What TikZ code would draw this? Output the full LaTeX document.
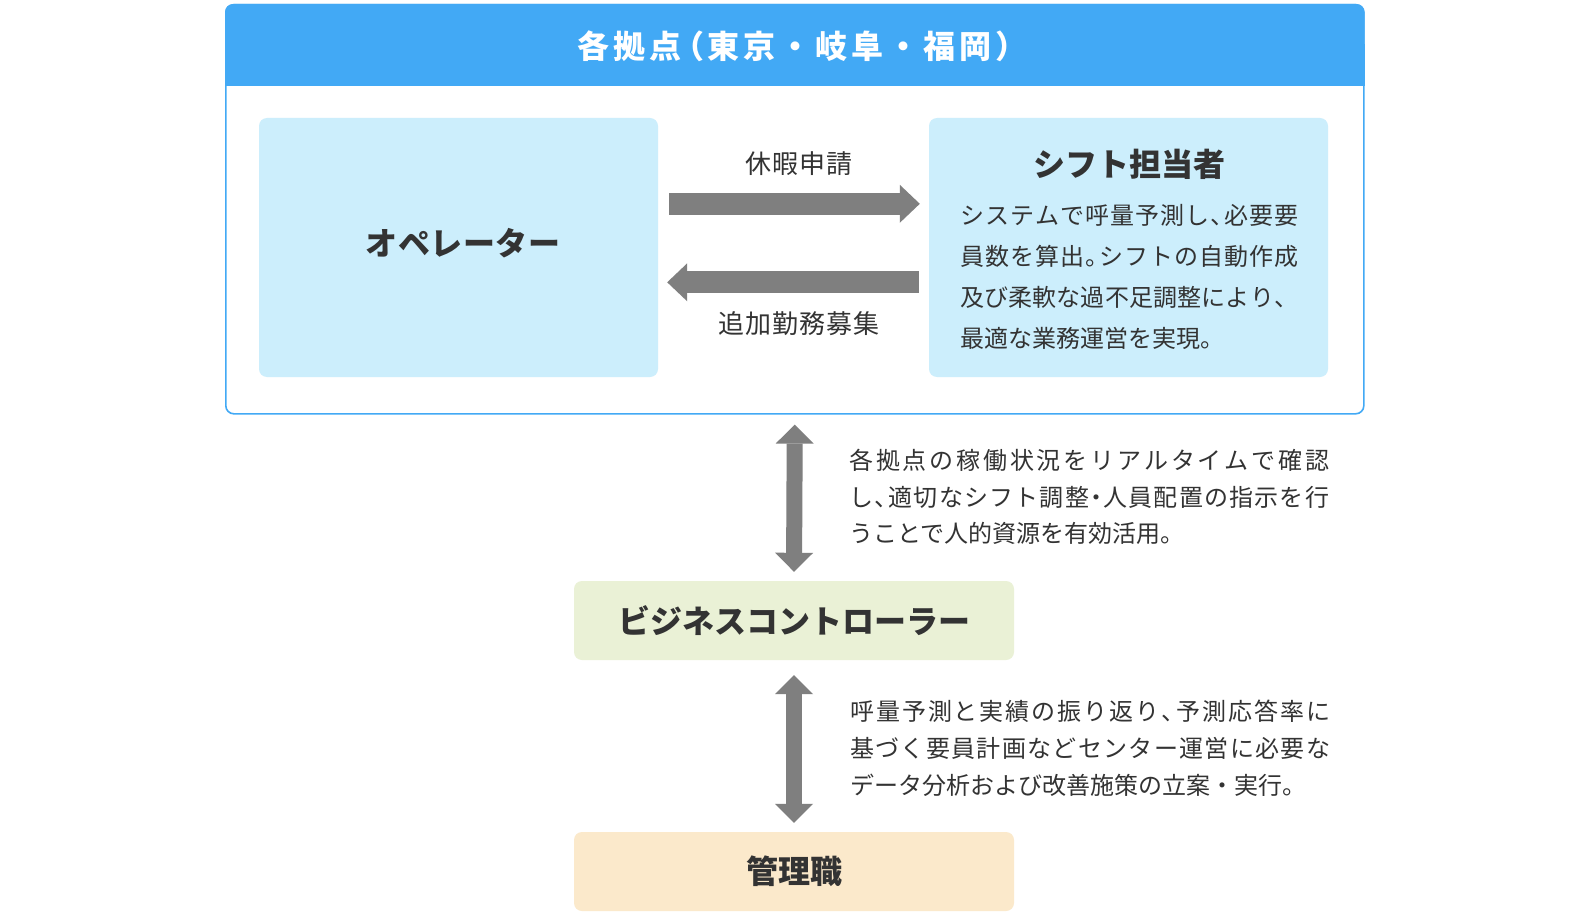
\documentclass[tikz,border=0pt]{standalone}
\usepackage{fontspec}
\setmainfont{Noto Sans CJK JP}
\usetikzlibrary{arrows.meta,calc}
\definecolor{hdrblue}{HTML}{42A9F5}
\definecolor{lblue}{HTML}{CCEEFC}
\definecolor{lgreen}{HTML}{EAF1D6}
\definecolor{peach}{HTML}{FBE9CB}
\definecolor{arrowgray}{HTML}{7F7F7F}
\definecolor{txt}{HTML}{333333}
\ExplSyntaxOn
\cs_new_protected:Npn \my_spaced:nn #1#2
  {
    \bool_set_true:N \l_tmpa_bool
    \tl_map_inline:nn {#2}
      {
        \bool_if:NTF \l_tmpa_bool { \bool_set_false:N \l_tmpa_bool } { #1 }
        ##1
      }
  }
\NewDocumentCommand \spaced { m m } { \my_spaced:nn { \hskip #1 \relax } {#2} }
\NewDocumentCommand \jl { m m }
  { \mode_leave_vertical: \hbox_to_wd:nn {#1} { \my_spaced:nn { \hfil } {#2} } }
\ExplSyntaxOff
\newcommand\hc{、\kern-11pt}
\newcommand\hp{。\kern-11pt}
\newcommand\hd{\kern-6pt・\kern-6pt}
\begin{document}
\begin{tikzpicture}[x=1pt,y=-1pt,
  every node/.style={text=txt},
  box/.style={rectangle, rounded corners=8pt, inner sep=0pt},
  bigbox/.style={box, minimum width=399pt, minimum height=259pt},
  rolebox/.style={box, minimum width=440pt, minimum height=79pt},
  boldtxt/.style={font=\bfseries\fontsize{32}{32}\selectfont},
  lbltxt/.style={font=\fontsize{26}{26}\selectfont},
  fatH/.style={draw=arrowgray, line width=22pt, -{Triangle[width=38pt,length=20pt,line width=0pt]}},
  fatV/.style={draw=arrowgray, line width=16pt, {Triangle[width=38pt,length=19pt,line width=0pt]}-{Triangle[width=38pt,length=19pt,line width=0pt]}}
]
\fill[white] (0,0) rectangle (1588,920);
\useasboundingbox (0,0) rectangle (1588,920);

% site container
\node[draw=hdrblue, line width=1.6pt, rounded corners=8pt, minimum width=1138pt, minimum height=409pt, anchor=north west, inner sep=0pt] (site) at (225,4) {};
\fill[hdrblue, rounded corners=8pt] (site.north west) rectangle ($(site.north east)+(0,82)$);
\fill[hdrblue] ($(site.north west)+(0,40)$) rectangle ($(site.north east)+(0,82)$);
\node[boldtxt, text=white] (hdr) at (796,46) {\spaced{4pt}{各拠点{\kern-13pt（}東京・岐阜・福岡{）\kern-13pt}}};

% operator and shift boxes
\node[bigbox, fill=lblue] (op) at (458.5,247.5) {};
\node[boldtxt] (optext) at (463,243) {\spaced{0.5pt}{オペレーター}};
\node[bigbox, fill=lblue] (shift) at (1128.5,247.5) {};
\node[boldtxt] (shtitle) at (1129,164) {シフト担当者};
\node[anchor=north west, inner sep=0pt, align=left, font=\fontsize{24}{41}\selectfont] (shbody) at (960,204)
  {\jl{338pt}{システムで呼量予測し{\hc}必要要}\\
   \jl{338pt}{員数を算出{\hp}シフトの自動作成}\\
   \jl{338pt}{及び柔軟な過不足調整により、}\\
   最適な業務運営を実現。};

% horizontal arrows
\draw[fatH] ($(op.north east)+(11,86)$) -- ($(shift.north west)+(-9,86)$);
\draw[fatH] ($(shift.north west)+(-10,164.5)$) -- ($(op.north east)+(9,164.5)$);
\node[lbltxt] (lbl1) at (799,164) {\spaced{1pt}{休暇申請}};
\node[lbltxt] (lbl2) at (799,324) {\spaced{1pt}{追加勤務募集}};

% business controller and manager
\node[rolebox, fill=lgreen, boldtxt] (bc) at (794,620.5) {ビジネスコントローラー};
\node[rolebox, fill=peach, boldtxt] (mg) at (794,871.5) {管理職};

% vertical arrows
\draw[fatV] ($(site.south)+(0,10)$) -- ($(bc.north)+(0,-9)$);
\draw[fatV] ($(bc.south)+(0,15)$) -- ($(mg.north)+(0,-9)$);

% descriptions
\node[anchor=north west, inner sep=0pt, align=left, font=\fontsize{24}{36.5}\selectfont] (desc1) at (849,449)
  {\jl{480pt}{各拠点の稼働状況をリアルタイムで確認}\\
   \jl{480pt}{し{\hc}適切なシフト調整{\hd}人員配置の指示を行}\\
   うことで人的資源を有効活用。};
\node[anchor=north west, inner sep=0pt, align=left, font=\fontsize{24}{37}\selectfont] (desc2) at (850,700)
  {\jl{480pt}{呼量予測と実績の振り返り{\hc}予測応答率に}\\
   \jl{480pt}{基づく要員計画などセンター運営に必要な}\\
   データ分析および改善施策の立案・実行。};
\end{tikzpicture}
\end{document}
